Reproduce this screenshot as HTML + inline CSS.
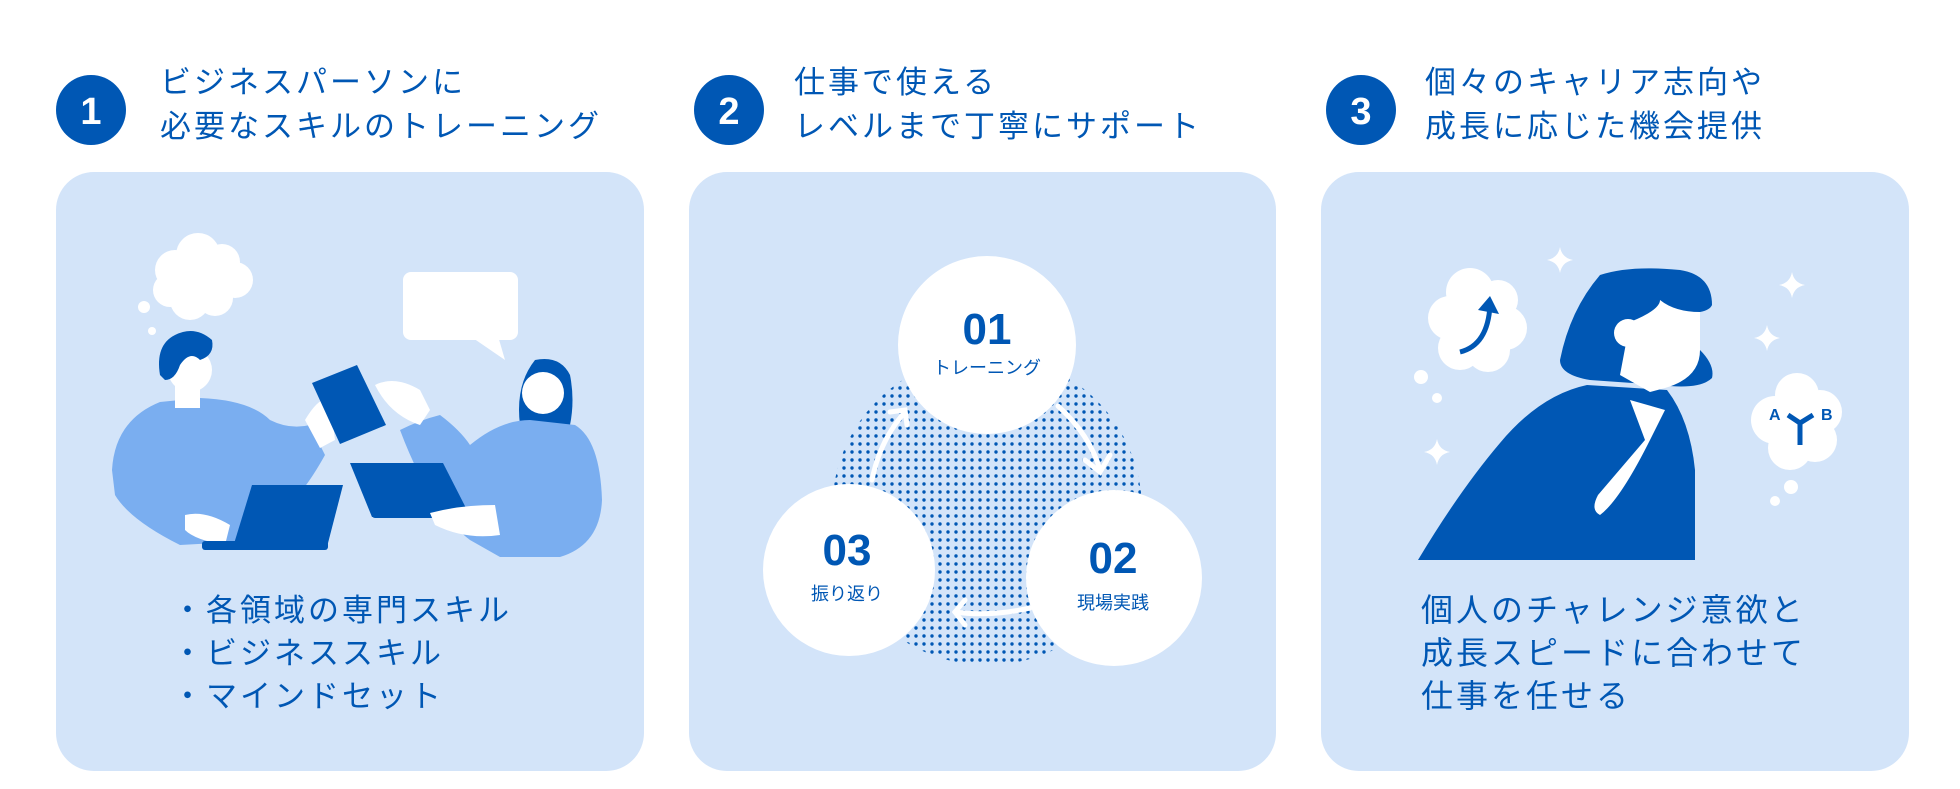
<!DOCTYPE html>
<html><head><meta charset="utf-8"><style>
html,body{margin:0;padding:0;background:#fff;width:1960px;height:789px;overflow:hidden}
text{font-family:"Liberation Sans","Noto Sans CJK JP",sans-serif}
</style></head><body>
<svg width="1960" height="789" viewBox="0 0 1960 789" xmlns="http://www.w3.org/2000/svg">
<defs>
<pattern id="dots" x="0" y="0" width="8" height="8" patternUnits="userSpaceOnUse">
<circle cx="4" cy="4" r="1.7" fill="#0057b4"/></pattern>
</defs>
<!-- headers -->
<g fill="#0057b4">
<circle cx="91" cy="110" r="35"/><circle cx="729" cy="110" r="35"/><circle cx="1361" cy="110" r="35"/>
</g>
<g fill="#fff" font-size="38" font-weight="bold" text-anchor="middle">
<text x="91" y="124">1</text><text x="729" y="124">2</text><text x="1361" y="124">3</text>
</g>
<g fill="#0057b4" font-size="31" letter-spacing="3">
<text x="160" y="93">ビジネスパーソンに</text><text x="160" y="137">必要なスキルのトレーニング</text>
<text x="794" y="93">仕事で使える</text><text x="794" y="137">レベルまで丁寧にサポート</text>
<text x="1425" y="93">個々のキャリア志向や</text><text x="1425" y="137">成長に応じた機会提供</text>
</g>
<!-- panels -->
<g fill="#d3e4f9">
<rect x="56" y="172" width="588" height="599" rx="38"/>
<rect x="689" y="172" width="587" height="599" rx="38"/>
<rect x="1321" y="172" width="588" height="599" rx="38"/>
</g>

<!-- panel 1 illustration -->
<g fill="#fff">
<circle cx="175" cy="270" r="20"/><circle cx="198" cy="255" r="22"/><circle cx="222" cy="262" r="18"/><circle cx="235" cy="280" r="18"/><circle cx="215" cy="298" r="18"/><circle cx="190" cy="300" r="20"/><circle cx="170" cy="290" r="17"/><circle cx="200" cy="278" r="22"/>
<circle cx="144" cy="307" r="6"/><circle cx="152" cy="331" r="4"/>
<rect x="403" y="272" width="115" height="68" rx="8"/>
<polygon points="470,336 505,360 498,336"/>
</g>
<!-- man -->
<path d="M112,470 Q115,420 160,402 L200,398 Q250,400 270,420 Q290,430 310,425 L325,455 Q300,500 280,510 L270,540 L180,545 Q130,520 115,495 Z" fill="#7aaef0"/>
<rect x="175" y="380" width="25" height="28" fill="#fff"/>
<circle cx="190" cy="370" r="22" fill="#fff"/>
<path d="M160,375 Q155,345 175,335 Q195,325 212,340 Q215,355 200,360 Q190,350 180,365 Q175,380 165,380 Z" fill="#0057b4"/>
<path d="M305,420 Q320,395 330,400 L335,440 L320,448 Z" fill="#fff"/>
<polygon points="312,383 357,365 386,425 340,444" fill="#0057b4"/>
<path d="M185,515 Q205,510 230,525 L225,545 Q195,540 185,530 Z" fill="#fff"/>
<polygon points="252,485 343,485 327,547 233,547" fill="#0057b4"/>
<rect x="202" y="541" width="126" height="9" rx="3" fill="#0057b4"/>
<!-- woman -->
<path d="M535,360 Q560,355 570,375 Q575,400 570,425 L520,425 Q515,385 535,360 Z" fill="#0057b4"/>
<path d="M400,430 Q420,420 440,415 Q460,430 470,445 Q500,420 530,420 L575,425 Q600,440 602,500 Q600,545 560,557 L500,557 L470,540 Q430,510 400,430 Z" fill="#7aaef0"/>
<circle cx="543" cy="393" r="21" fill="#fff"/>
<path d="M375,385 Q395,375 420,390 L430,410 L420,425 Q390,415 375,385 Z" fill="#fff"/>
<polygon points="350,463 443,463 467,510 372,517" fill="#0057b4"/>
<rect x="372" y="510" width="100" height="8" rx="3" fill="#0057b4"/>
<path d="M430,513 Q460,505 495,505 L500,535 Q465,540 435,525 Z" fill="#fff"/>

<g fill="#0057b4" font-size="31" letter-spacing="3">
<text x="172" y="621">・各領域の専門スキル</text>
<text x="172" y="664">・ビジネススキル</text>
<text x="172" y="707">・マインドセット</text>
</g>

<!-- panel 2 -->
<circle cx="987" cy="510" r="155" fill="url(#dots)"/>
<circle cx="987" cy="345" r="89" fill="#fff"/>
<circle cx="849" cy="570" r="86" fill="#fff"/>
<circle cx="1114" cy="578" r="88" fill="#fff"/>
<g fill="none" stroke="#fff" stroke-width="5" stroke-linecap="round">
<path d="M1058,406 Q1090,435 1100,470"/><path d="M1085,460 L1100,472 L1110,455"/>
<path d="M1030,608 Q990,617 955,612"/><path d="M965,600 L955,612 L965,625"/>
<path d="M872,480 Q880,440 905,412"/><path d="M890,412 L905,410 L907,425"/>
</g>
<g fill="#0057b4" font-weight="bold" font-size="44" text-anchor="middle">
<text x="987" y="344">01</text><text x="847" y="565">03</text><text x="1113" y="573">02</text>
</g>
<g fill="#0057b4" font-size="18" text-anchor="middle">
<text x="987" y="374">トレーニング</text><text x="847" y="600">振り返り</text><text x="1113" y="609">現場実践</text>
</g>

<!-- panel 3 illustration -->
<g fill="#fff">
<circle cx="1450" cy="318" r="22"/><circle cx="1470" cy="292" r="24"/><circle cx="1498" cy="300" r="20"/><circle cx="1505" cy="328" r="22"/><circle cx="1488" cy="350" r="22"/><circle cx="1460" cy="348" r="22"/><circle cx="1477" cy="322" r="28"/>
<circle cx="1775" cy="420" r="24"/><circle cx="1797" cy="395" r="22"/><circle cx="1820" cy="412" r="22"/><circle cx="1815" cy="440" r="22"/><circle cx="1790" cy="448" r="22"/><circle cx="1797" cy="420" r="28"/>
<circle cx="1421" cy="377" r="7"/><circle cx="1437" cy="398" r="5"/><circle cx="1791" cy="487" r="7"/><circle cx="1775" cy="501" r="5"/>
<path d="M1560,247 Q1562,258 1573,260 Q1562,262 1560,273 Q1558,262 1547,260 Q1558,258 1560,247Z"/>
<path d="M1792,272 Q1794,283 1805,285 Q1794,287 1792,298 Q1790,287 1779,285 Q1790,283 1792,272Z"/>
<path d="M1767,325 Q1769,336 1780,338 Q1769,340 1767,351 Q1765,340 1754,338 Q1765,336 1767,325Z"/>
<path d="M1437,439 Q1439,450 1450,452 Q1439,454 1437,465 Q1435,454 1424,452 Q1435,450 1437,439Z"/>
</g>
<path d="M1460,352 Q1488,345 1490,305" fill="none" stroke="#0057b4" stroke-width="5"/>
<polygon points="1478,310 1490,296 1499,314" fill="#0057b4"/>
<g fill="#0057b4" font-size="16" font-weight="bold"><text x="1769" y="420">A</text><text x="1821" y="420">B</text></g>
<path d="M1788,415 L1800,423 L1813,415 M1800,423 L1800,445" fill="none" stroke="#0057b4" stroke-width="5"/>
<path d="M1418,560 Q1460,490 1500,443 Q1540,395 1587,385 L1667,390 Q1690,420 1695,470 L1695,560 Z" fill="#0057b4"/>
<path d="M1560,360 Q1570,310 1600,275 Q1630,265 1680,270 Q1712,275 1712,305 Q1710,310 1700,312 L1700,350 Q1715,365 1712,378 Q1700,390 1660,385 L1590,380 Q1560,375 1560,360Z" fill="#0057b4"/>
<path d="M1630,322 Q1660,310 1660,300 Q1675,312 1700,312 L1700,350 Q1700,378 1665,388 L1650,392 L1620,375 Z" fill="#fff"/>
<circle cx="1628" cy="333" r="14" fill="#fff"/>
<path d="M1630,400 L1665,410 L1650,440 Q1620,500 1600,515 Q1590,510 1598,495 L1645,440 Z" fill="#fff"/>

<g fill="#0057b4" font-size="32" letter-spacing="3">
<text x="1421" y="621">個人のチャレンジ意欲と</text>
<text x="1421" y="664">成長スピードに合わせて</text>
<text x="1421" y="707">仕事を任せる</text>
</g>
</svg>
</body></html>
